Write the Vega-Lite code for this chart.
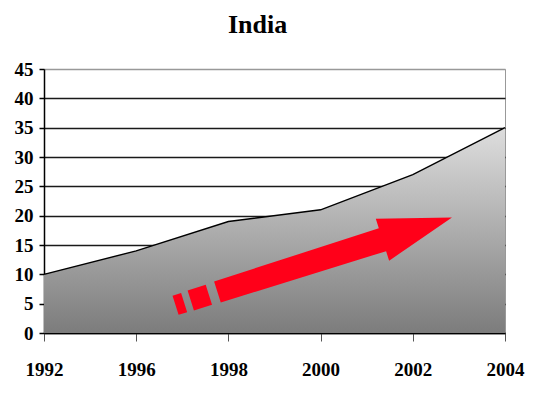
{
  "$schema": "https://vega.github.io/schema/vega-lite/v6.json",
  "width": 461,
  "height": 264,
  "autosize": {"type": "none"},
  "padding": {"left": 44, "top": 69, "right": 37, "bottom": 63},
  "background": "white",
  "config": {"view": {"stroke": "#999999", "strokeWidth": 1}, "font": "Liberation Serif"},
  "title": {"text": "India", "font": "Liberation Serif", "fontSize": 26, "fontWeight": "bold", "color": "black", "anchor": "middle", "dx": -17, "offset": 22},
  "datasets": {
    "series": [
      {"year": "1992", "value": 10},
      {"year": "1996", "value": 14},
      {"year": "1998", "value": 19},
      {"year": "2000", "value": 21},
      {"year": "2002", "value": 27},
      {"year": "2004", "value": 35}
    ],
    "arrow": [{"year": "2000", "value": 12.2}]
  },
  "layer": [
    {
      "data": {"name": "series"},
      "mark": {
        "type": "area",
        "color": {"gradient": "linear", "x1": 0, "y1": 0, "x2": 0, "y2": 1, "stops": [{"offset": 0, "color": "#dedede"}, {"offset": 1, "color": "#7c7c7c"}]},
        "opacity": 1,
        "line": {"color": "black", "strokeWidth": 1.4}
      },
      "encoding": {
        "x": {"field": "year", "type": "ordinal", "scale": {"type": "point", "padding": 0},
          "axis": {"title": null, "labelAngle": 0, "labelFont": "Liberation Serif", "labelFontSize": 19, "labelFontWeight": "bold", "labelColor": "black", "domainColor": "black", "domainWidth": 1.5, "tickColor": "#555555", "tickSize": 8, "labelPadding": 19, "grid": false, "labelOverlap": false}},
        "y": {"field": "value", "type": "quantitative", "scale": {"domain": [0, 45], "nice": false},
          "axis": {"title": null, "values": [0, 5, 10, 15, 20, 25, 30, 35, 40, 45], "tickCount": 10, "labelOverlap": false, "labelFont": "Liberation Serif", "labelFontSize": 19, "labelFontWeight": "bold", "labelColor": "black", "domainColor": "black", "domainWidth": 1.5, "tickColor": "black", "tickWidth": 1.5, "tickSize": 5, "labelPadding": 6, "grid": true, "gridOpacity": 1, "gridWidth": 1.5,
            "gridColor": {"condition": {"test": "datum.value == 45", "value": "#999999"}, "value": "#1a1a1a"}}}
      }
    },
    {
      "data": {"name": "arrow"},
      "mark": {
        "type": "point",
        "shape": "M-1.045,-0.083L-0.983,-0.083L-0.983,0.055L-1.045,0.055Z M-0.935,-0.086L-0.804,-0.086L-0.804,0.058L-0.935,0.058Z M-0.742,-0.090L0.452,-0.097L0.452,-0.166L0.955,-0.014L0.452,0.138L0.452,0.069L-0.742,0.062Z",
        "size": 84100,
        "angle": 342.4,
        "filled": true,
        "color": "#ff0019",
        "opacity": 1,
        "strokeWidth": 0
      },
      "encoding": {
        "x": {"field": "year", "type": "ordinal"},
        "y": {"field": "value", "type": "quantitative"}
      }
    }
  ]
}
